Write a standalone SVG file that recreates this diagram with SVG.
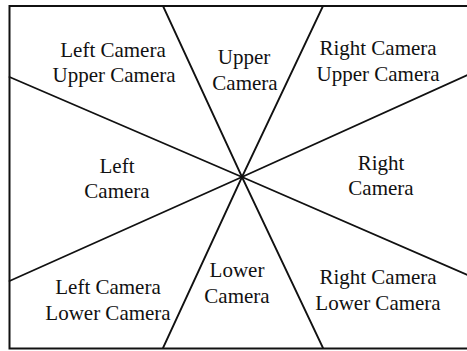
<svg xmlns="http://www.w3.org/2000/svg" width="467" height="351" viewBox="0 0 467 351">
<style>
.t{font-family:"Liberation Serif","Times New Roman",serif;font-size:21px;fill:#111;text-anchor:middle}
.ln{stroke:#111;stroke-width:1.8;fill:none;stroke-linecap:round}
</style>
<rect x="0" y="0" width="467" height="351" fill="#fff"/>
<rect x="9.5" y="6" width="462" height="342.5" fill="none" stroke="#111" stroke-width="2"/>
<g id="connectors">
<line class="ln" x1="242" y1="177" x2="163" y2="6"/>
<line class="ln" x1="242" y1="177" x2="323" y2="6"/>
<line class="ln" x1="242" y1="177" x2="9.5" y2="77"/>
<line class="ln" x1="242" y1="177" x2="470" y2="74"/>
<line class="ln" x1="242" y1="177" x2="9.5" y2="281"/>
<line class="ln" x1="242" y1="177" x2="470" y2="276"/>
<line class="ln" x1="242" y1="177" x2="163" y2="348"/>
<line class="ln" x1="242" y1="177" x2="323" y2="348"/>
</g>
<g id="left-upper"><text class="t" x="113" y="57">Left Camera</text><text class="t" x="114" y="82">Upper Camera</text></g>
<g id="upper"><text class="t" x="244" y="64">Upper</text><text class="t" x="245" y="90">Camera</text></g>
<g id="right-upper"><text class="t" x="378" y="55">Right Camera</text><text class="t" x="378" y="81">Upper Camera</text></g>
<g id="left"><text class="t" x="117" y="173">Left</text><text class="t" x="117" y="198">Camera</text></g>
<g id="right"><text class="t" x="381" y="170">Right</text><text class="t" x="381" y="195">Camera</text></g>
<g id="left-lower"><text class="t" x="108" y="294">Left Camera</text><text class="t" x="108" y="320">Lower Camera</text></g>
<g id="lower"><text class="t" x="237" y="277">Lower</text><text class="t" x="237" y="303">Camera</text></g>
<g id="right-lower"><text class="t" x="378" y="284">Right Camera</text><text class="t" x="378" y="310">Lower Camera</text></g>
</svg>
